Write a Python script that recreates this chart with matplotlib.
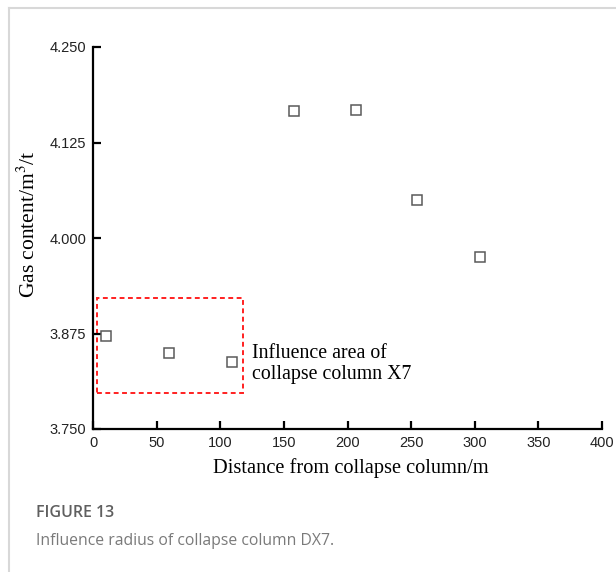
import matplotlib
matplotlib.use("Agg")
import matplotlib.pyplot as plt
from matplotlib.patches import Rectangle
from matplotlib.lines import Line2D

plt.rcParams["mathtext.fontset"] = "stix"

# 数据
distance = [10, 60, 109, 158, 207, 255, 304]
gas_content = [3.872, 3.850, 3.838, 4.166, 4.167, 4.050, 3.975]

x_ticks = [0, 50, 100, 150, 200, 250, 300, 350, 400]
y_ticks = [3.750, 3.875, 4.000, 4.125, 4.250]

# 影响区域框 (x0, x1, y0, y1)
box_x = [3, 118]
box_y = [3.797, 3.9215]

fig = plt.figure(figsize=(6.16, 5.72), dpi=100)

# 外框 (灰色细线, 上和左)
fig.add_artist(Line2D([9 / 616, 1], [1 - 7.5 / 572, 1 - 7.5 / 572], color="#d8d8d8", lw=1.5))
fig.add_artist(Line2D([9 / 616, 9 / 616], [0, 1 - 7.5 / 572], color="#d8d8d8", lw=1.5))

ax = fig.add_axes([93 / 616, 1 - 429 / 572, (602 - 93) / 616, (429 - 47) / 572])
ax.plot(distance, gas_content, linestyle="none", marker="s", markersize=7.5,
        markerfacecolor="white", markeredgecolor="#5a5a5a", markeredgewidth=1.1, clip_on=False)

ax.add_patch(Rectangle((box_x[0], box_y[0]), box_x[1] - box_x[0], box_y[1] - box_y[0],
                       fill=False, edgecolor="#ff2020", lw=1.4, linestyle=(0, (2.5, 1.8))))
ax.text(125, 3.835, "Influence area of\ncollapse column X7", family="Liberation Serif",
        fontsize=14.3, va="center", ha="left", linespacing=1.1)

ax.set_xlim(0, 400)
ax.set_ylim(3.750, 4.250)
ax.set_xticks(x_ticks)
ax.set_yticks(y_ticks)
ax.set_yticklabels([f"{v:.3f}" for v in y_ticks])
for s in ("top", "right"):
    ax.spines[s].set_visible(False)
for s in ("left", "bottom"):
    ax.spines[s].set_linewidth(1.6)
ax.tick_params(direction="in", length=6, width=1.6, labelsize=10.5, pad=5, labelcolor="#222222")
for lab in ax.get_xticklabels() + ax.get_yticklabels():
    lab.set_family("Liberation Sans")

ax.set_xlabel("Distance from collapse column/m", family="Liberation Serif", fontsize=14.7)
ax.xaxis.set_label_coords(0.507, -0.077)
ax.set_ylabel("Gas content/m$^3$/t", family="Liberation Serif", fontsize=15.5)
ax.yaxis.set_label_coords(-0.104, 0.537)

# 图注
fig.text(36 / 616, 1 - 513 / 572, "FIGURE 13", family="Open Sans", fontsize=11.5,
         fontweight="semibold", color="#5f5f5f", va="center", ha="left")
fig.text(36 / 616, 1 - 541 / 572, "Influence radius of collapse column DX7.", family="Open Sans",
         fontsize=11.3, color="#7a7a7a", va="center", ha="left")

fig.savefig("out.png", dpi=100)
